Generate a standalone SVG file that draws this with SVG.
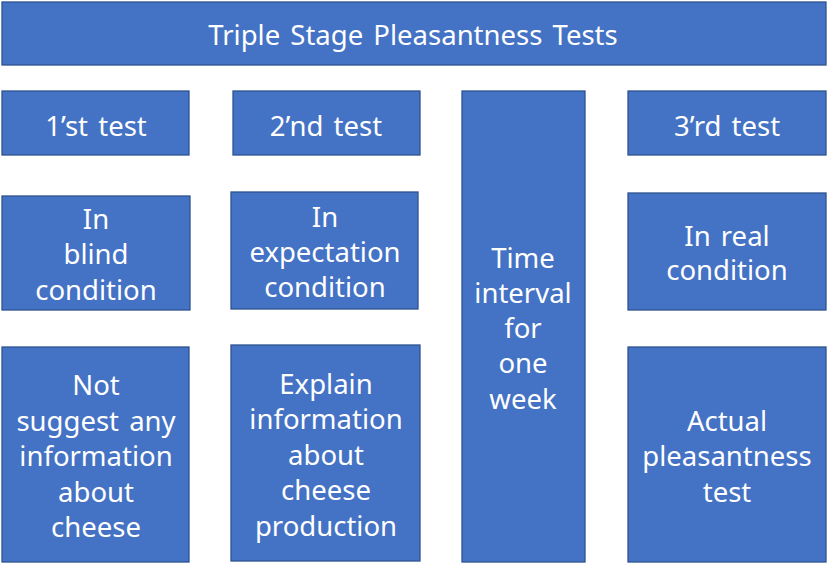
<svg xmlns="http://www.w3.org/2000/svg" width="827" height="564" viewBox="0 0 827 564">
<style>
.box{fill:#4472C4;stroke:#2F528F;stroke-width:1.3}
text{font-family:"Noto Sans","DejaVu Sans",sans-serif;font-size:27.5px;fill:#fff;text-anchor:middle;word-spacing:3px}
</style>
<rect width="827" height="564" fill="#fff"/>
<g id="title"><rect class="box" x="2" y="2" width="824" height="63"/><text x="413" y="45">Triple Stage Pleasantness Tests</text></g>
<g id="test1"><rect class="box" x="2" y="91" width="187" height="64"/><text x="96" y="136">1’st test</text></g>
<g id="test2"><rect class="box" x="233" y="91" width="187" height="64"/><text x="326" y="136">2’nd test</text></g>
<g id="interval"><rect class="box" x="462" y="91" width="123" height="471"/><text x="523" y="268">Time</text><text x="523" y="303">interval</text><text x="523" y="338">for</text><text x="523" y="373">one</text><text x="523" y="409">week</text></g>
<g id="test3"><rect class="box" x="628" y="91" width="198" height="64"/><text x="727" y="136">3’rd test</text></g>
<g id="blind"><rect class="box" x="2" y="196" width="188" height="114"/><text x="96" y="229">In</text><text x="96" y="264">blind</text><text x="96" y="300">condition</text></g>
<g id="expectation"><rect class="box" x="231" y="192" width="187" height="117"/><text x="325" y="227">In</text><text x="325" y="262">expectation</text><text x="325" y="297">condition</text></g>
<g id="real"><rect class="box" x="628" y="193" width="198" height="117"/><text x="727" y="246">In real</text><text x="727" y="280">condition</text></g>
<g id="notsuggest"><rect class="box" x="2" y="347" width="187" height="215"/><text x="96" y="395">Not</text><text x="96" y="431">suggest any</text><text x="96" y="466">information</text><text x="96" y="502">about</text><text x="96" y="537">cheese</text></g>
<g id="explain"><rect class="box" x="231" y="345" width="189" height="216"/><text x="326" y="394">Explain</text><text x="326" y="429">information</text><text x="326" y="465">about</text><text x="326" y="500">cheese</text><text x="326" y="536">production</text></g>
<g id="actual"><rect class="box" x="628" y="347" width="198" height="215"/><text x="727" y="431">Actual</text><text x="727" y="466">pleasantness</text><text x="727" y="502">test</text></g>
<g id="connectors"/>
</svg>
